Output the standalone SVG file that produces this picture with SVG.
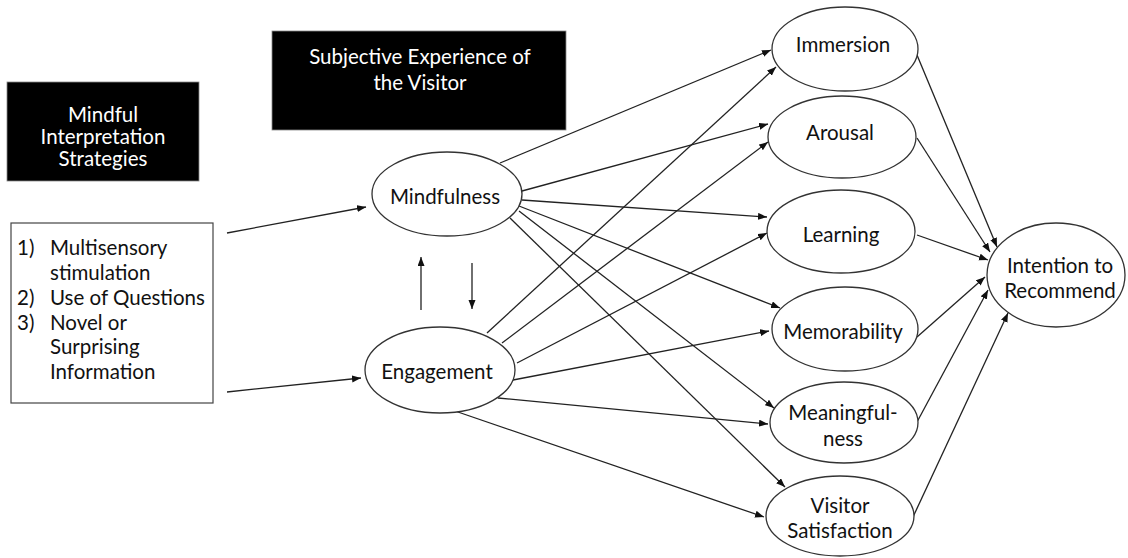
<svg xmlns="http://www.w3.org/2000/svg" width="1128" height="558" viewBox="0 0 1128 558">
<style>
.t{font-family:Lato,"Liberation Sans",sans-serif;font-size:20.5px;fill:#111;text-anchor:middle}
.w{font-family:Lato,"Liberation Sans",sans-serif;font-size:20.5px;fill:#fff;text-anchor:middle}
.l{font-family:Lato,"Liberation Sans",sans-serif;font-size:20.5px;fill:#111}
.n{fill:#fff;stroke:#333;stroke-width:1.3}
.c{stroke:#222;stroke-width:1.3;fill:none;marker-end:url(#ah)}
</style>
<defs>
<marker id="ah" markerUnits="userSpaceOnUse" markerWidth="10" markerHeight="8" refX="9" refY="3.5" orient="auto">
<path d="M0,0 L9,3.5 L0,7 z" fill="#111"/>
</marker>
</defs>
<rect width="1128" height="558" fill="#fff"/>
<g id="strategies-header">
<rect x="7" y="82" width="192" height="99" fill="#000" stroke="#888" stroke-width="0.8"/>
<text class="w" x="103" y="122">Mindful</text>
<text class="w" x="103" y="144">Interpretation</text>
<text class="w" x="103" y="166">Strategies</text>
</g>
<g id="experience-header">
<rect x="272" y="31" width="294" height="99" fill="#000" stroke="#888" stroke-width="0.8"/>
<text class="w" x="420" y="64">Subjective Experience of</text>
<text class="w" x="420" y="90">the Visitor</text>
</g>
<g id="strategies-list">
<rect x="11" y="223" width="202" height="180" fill="#fff" stroke="#444" stroke-width="1.2"/>
<text class="l" x="17" y="255">1)</text><text class="l" x="50" y="255">Multisensory</text>
<text class="l" x="50" y="280">stimulation</text>
<text class="l" x="17" y="305">2)</text><text class="l" x="50" y="305">Use of Questions</text>
<text class="l" x="17" y="330">3)</text><text class="l" x="50" y="330">Novel or</text>
<text class="l" x="50" y="354">Surprising</text>
<text class="l" x="50" y="379">Information</text>
</g>
<g id="connectors">
<line class="c" x1="227" y1="233" x2="366" y2="207"/>
<line class="c" x1="227" y1="392" x2="361" y2="378"/>
<line class="c" x1="421" y1="310" x2="421" y2="257"/>
<line class="c" x1="472" y1="263" x2="472" y2="309"/>
<line class="c" x1="500" y1="163" x2="771" y2="50"/>
<line class="c" x1="522" y1="191" x2="768" y2="124"/>
<line class="c" x1="522" y1="200" x2="767" y2="217"/>
<line class="c" x1="519" y1="206" x2="780" y2="308"/>
<line class="c" x1="519" y1="211" x2="774" y2="408"/>
<line class="c" x1="510" y1="218" x2="785" y2="487"/>
<line class="c" x1="487" y1="333" x2="776" y2="67"/>
<line class="c" x1="502" y1="343" x2="768" y2="142"/>
<line class="c" x1="517" y1="363" x2="767" y2="233"/>
<line class="c" x1="513" y1="380" x2="769" y2="331"/>
<line class="c" x1="498" y1="398" x2="768" y2="424"/>
<line class="c" x1="455" y1="411" x2="764" y2="517"/>
<line class="c" x1="917" y1="55" x2="997" y2="247"/>
<line class="c" x1="917" y1="138" x2="990" y2="252"/>
<line class="c" x1="917" y1="235" x2="988" y2="260"/>
<line class="c" x1="917" y1="337" x2="985" y2="277"/>
<line class="c" x1="917" y1="422" x2="988" y2="290"/>
<line class="c" x1="913" y1="517" x2="1008" y2="313"/>
</g>
<g id="mindfulness"><ellipse class="n" cx="447" cy="194" rx="75" ry="42"/><text class="t" x="445" y="204">Mindfulness</text></g>
<g id="engagement"><ellipse class="n" cx="440" cy="370" rx="75" ry="43"/><text class="t" x="437" y="379">Engagement</text></g>
<g id="immersion"><ellipse class="n" cx="845" cy="49" rx="73" ry="42"/><text class="t" x="843" y="52">Immersion</text></g>
<g id="arousal"><ellipse class="n" cx="842" cy="137" rx="74" ry="41"/><text class="t" x="840" y="140">Arousal</text></g>
<g id="learning"><ellipse class="n" cx="841" cy="231.5" rx="74" ry="41.5"/><text class="t" x="841" y="242">Learning</text></g>
<g id="memorability"><ellipse class="n" cx="845" cy="329" rx="73" ry="42"/><text class="t" x="843" y="339">Memorability</text></g>
<g id="meaningfulness"><ellipse class="n" cx="844" cy="422.5" rx="74" ry="40.5"/><text class="t" x="843" y="420">Meaningful-</text><text class="t" x="843" y="446">ness</text></g>
<g id="visitor-satisfaction"><ellipse class="n" cx="840" cy="516" rx="74" ry="40"/><text class="t" x="840" y="513">Visitor</text><text class="t" x="840" y="538">Satisfaction</text></g>
<g id="intention"><ellipse class="n" cx="1056" cy="275" rx="69" ry="52"/><text class="t" x="1060" y="273">Intention to</text><text class="t" x="1060" y="298">Recommend</text></g>
</svg>
